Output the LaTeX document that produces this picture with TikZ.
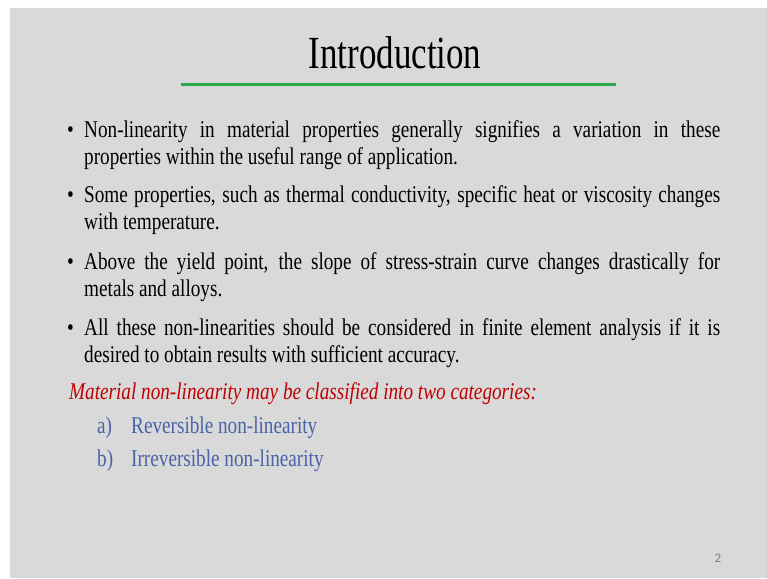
\documentclass[tikz,border=0pt]{standalone}
\usepackage{fontspec}
\setmainfont[FakeStretch=0.80]{Liberation Serif}
\newfontfamily\titlefont[FakeStretch=0.76]{Liberation Serif}
\newfontfamily\pagenumfont{Carlito}

\definecolor{slidegray}{RGB}{217,217,217}
\definecolor{rulegreen}{RGB}{44,170,78}
\definecolor{catred}{RGB}{192,0,0}
\definecolor{catblue}{RGB}{74,98,168}

\tikzstyle{bullet} = [anchor=base west, inner sep=0pt, font=\fontsize{24}{27}\selectfont]
\tikzstyle{para} = [anchor=base west, inner sep=0pt, text width=636pt, align=justify,
    font=\fontsize{24}{27}\selectfont]
\tikzstyle{cat} = [anchor=base west, inner sep=0pt, text=catblue, font=\fontsize{24}{27}\selectfont]

\begin{document}
\begin{tikzpicture}[x=1pt, y=-1pt]
\useasboundingbox (0,0) rectangle (767,578);
\fill[slidegray] (10,8) rectangle (767,578);

% title
\node[anchor=base, inner sep=0pt, font=\titlefont\fontsize{46}{50}\selectfont] (title) at (395,68) {Introduction};
\draw[rulegreen, line width=3pt] (181,84) -- (616,84);

% bullets
\node[bullet] (b1) at (67,137) {\textbullet};
\node[para] (p1) at (84,137) {Non-linearity in material properties generally signifies a variation in these\linebreak
    properties within the useful range of application.};
\node[bullet] (b2) at (67,202) {\textbullet};
\node[para] (p2) at (84,202) {Some properties, such as thermal conductivity, specific heat or viscosity changes\linebreak
    with temperature.};
\node[bullet] (b3) at (67,269) {\textbullet};
\node[para] (p3) at (84,269) {Above the yield point, the slope of stress-strain curve changes drastically for\linebreak
    metals and alloys.};
\node[bullet] (b4) at (67,335) {\textbullet};
\node[para] (p4) at (84,335) {All these non-linearities should be considered in finite element analysis if it is\linebreak
    desired to obtain results with sufficient accuracy.};

% categories
\node[anchor=base west, inner sep=0pt, text=catred, font=\fontsize{24}{27}\selectfont\itshape] (intro) at (69,399)
    {Material non-linearity may be classified into two categories:};
\node[cat] (la) at (97,433) {a)};
\node[cat] (ta) at (131,433) {Reversible non-linearity};
\node[cat] (lb) at (97,466) {b)};
\node[cat] (tb) at (131,466) {Irreversible non-linearity};

\node[anchor=base, inner sep=0pt, text=gray, font=\pagenumfont\fontsize{13}{14}\selectfont] (pnum) at (718,562) {2};
\end{tikzpicture}
\end{document}
